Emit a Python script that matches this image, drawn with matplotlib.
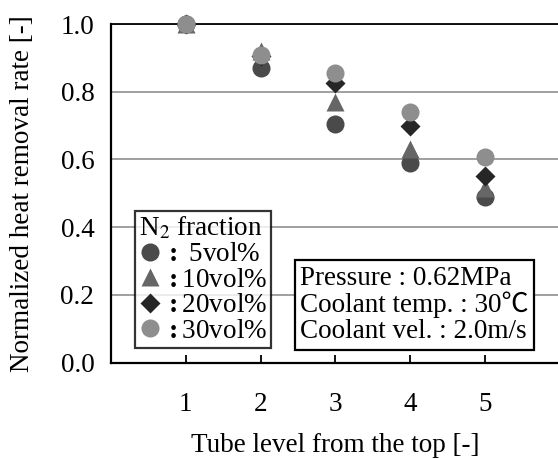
import numpy as np
import matplotlib
matplotlib.use("Agg")
from matplotlib import pyplot as plt

plt.rcParams['font.family'] = ['Liberation Serif', 'Noto Sans CJK JP', 'DejaVu Sans']
plt.rcParams['mathtext.fontset'] = 'stix'
plt.rcParams['font.size'] = 19.5

# data
levels = [1, 2, 3, 4, 5]
n2_5 = [1.0, 0.87, 0.705, 0.59, 0.49]
n2_10 = [1.0, 0.92, 0.77, 0.63, 0.515]
n2_20 = [1.0, 0.905, 0.825, 0.70, 0.55]
n2_30 = [1.0, 0.908, 0.856, 0.739, 0.607]
labels = [r'$\mathbf{:}$ 5vol%', r'$\mathbf{:}$10vol%',
          r'$\mathbf{:}$20vol%', r'$\mathbf{:}$30vol%']

fig = plt.figure(figsize=(5.58, 4.59), dpi=100)
ax = fig.add_axes([111/558, (459-362.5)/459, 6*74.8/558, 338.5/459])

kw = dict(mec='none', zorder=4, clip_on=False, ls='none')
ax.plot(levels, n2_5, 'o', ms=13, color='#4a4a4a', label=labels[0], **kw)
ax.plot(levels, n2_10, '^', ms=13, color='#666666', label=labels[1], **kw)
ax.plot(levels, n2_20, 'D', ms=10, color='#262626', label=labels[2], **kw)
ax.plot(levels, n2_30, 'o', ms=13, color='#8e8e8e', label=labels[3], **kw)

ax.set_xlim(0, 6)
ax.set_ylim(0, 1.0)
ax.set_xticks(levels)
ax.set_yticks(np.arange(0, 1.01, 0.2))
ax.set_yticklabels(['0.0', '0.2', '0.4', '0.6', '0.8', '1.0'])
ax.tick_params(axis='x', direction='in', length=6, width=1.3, pad=21)
ax.tick_params(axis='y', length=0, pad=12)
ax.yaxis.grid(True, color='#999999', lw=1.3)
ax.set_axisbelow(True)
for s in ['left', 'bottom', 'top']:
    ax.spines[s].set_linewidth(1.6)
ax.spines['top'].set_linewidth(1.3)
ax.spines['right'].set_visible(False)

ax.set_xlabel('Tube level from the top [-]', labelpad=12)
ax.set_ylabel('Normalized heat removal rate [-]', labelpad=18)

leg = ax.legend(title='N$_2$ fraction', loc='upper left',
                bbox_to_anchor=((135-111)/448.8, (362.5-211)/338.5),
                frameon=True, fancybox=False, edgecolor='black',
                handlelength=0.8, handletextpad=0.15, borderpad=0.15,
                labelspacing=0.02, borderaxespad=0, alignment='left',
                markerscale=1.0)
leg.get_frame().set_linewidth(1.6)
leg.get_title().set_linespacing(1.0)
leg.set_zorder(5)

ax.text((300-111)/448.8, (362.5-305)/338.5,
        'Pressure : 0.62MPa\nCoolant temp. : 30℃\nCoolant vel. : 2.0m/s',
        transform=ax.transAxes, va='center', ha='left', linespacing=1.05,
        bbox=dict(boxstyle='square,pad=0.2', fc='white', ec='black', lw=1.6),
        zorder=5)

fig.savefig('out.png', dpi=100)
